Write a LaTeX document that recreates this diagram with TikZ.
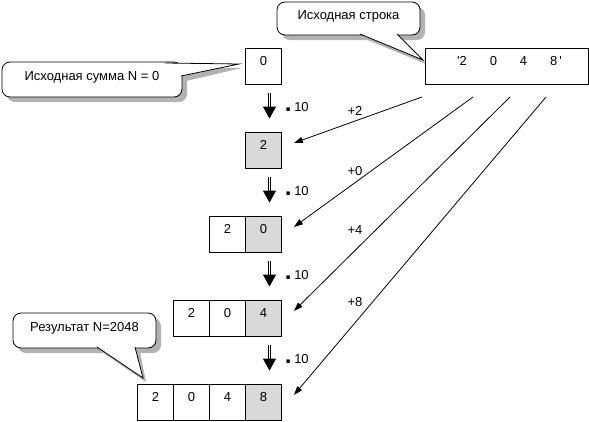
\documentclass[tikz,border=0pt]{standalone}
\usepackage{fontspec}
\setmainfont{Liberation Sans}
\newfontfamily\symfont{DejaVu Sans}
\usetikzlibrary{positioning,arrows.meta,shadows,backgrounds}

\begin{document}
\begin{tikzpicture}[x=1pt,y=-1pt,line width=0.8pt,font=\fontsize{13}{15}\selectfont,
	cell/.style={rectangle,draw=black,minimum size=36pt,inner sep=0pt,text height=7pt,text depth=8pt},
	last/.style={cell,fill=gray!30},
	bubble/.style={rectangle,rounded corners=8pt,draw=black,fill=white,inner sep=0pt,text height=7pt,text depth=6pt,
		drop shadow={shadow xshift=5pt,shadow yshift=-5pt,fill=gray!60,opacity=1}},
	shade/.style={fill=gray!60},
	times arrow/.style={double,double distance=1.4pt,line width=0.8pt,-{Triangle[width=13pt,length=12pt]}},
	add arrow/.style={-{Triangle[width=6pt,length=9pt]}}]

	\useasboundingbox (0,0) rectangle (589,421);

	% the string
	\node[rectangle,draw=black,minimum width=163pt,minimum height=36pt,inner sep=0pt,text height=7pt,text depth=8pt] (src) at (506.5,66)
		{\hspace{6pt}\textquotesingle 2\hspace{23pt}0\hspace{23pt}4\hspace{23pt}8\hspace{2pt}\textquotesingle};

	% rows of N
	\node[cell] (n1) at (263.5,66) {0};
	\node[last] (n2) at (263.5,150) {2};
	\node[last] (n3) at (263.5,234) {0};
	\node[cell,left=-\pgflinewidth of n3] (n3a) {2};
	\node[last] (n4) at (263.5,318) {4};
	\node[cell,left=-\pgflinewidth of n4] (n4b) {0};
	\node[cell,left=-\pgflinewidth of n4b] (n4a) {2};
	\node[last] (n5) at (263.5,402) {8};
	\node[cell,left=-\pgflinewidth of n5] (n5c) {4};
	\node[cell,left=-\pgflinewidth of n5c] (n5b) {0};
	\node[cell,left=-\pgflinewidth of n5b] (n5a) {2};

	% *10
	\foreach \i [evaluate=\i as \j using int(\i+1)] in {1,...,4}
		\draw[times arrow] ([xshift=6pt,yshift=-9pt]n\i.south) -- ([xshift=6pt,yshift=13pt]n\j.north)
			node[midway,right=16pt,inner sep=0pt,yshift=-1pt] {{\symfont\fontsize{7}{7}\selectfont ▪} 10};

	% +digit
	\coordinate (s2) at (422,97);
	\coordinate (s3) at (473,97);
	\coordinate (s4) at (510,97);
	\coordinate (s5) at (546,97);
	\foreach \i/\d/\y in {2/2/111,3/0/171,4/4/230,5/8/302} {
		\draw[add arrow] (s\i) -- ([xshift=12pt,yshift=7pt]n\i.east);
		\node (p\i) at (355,\y) {+\d};
	}

	% callouts
	\node[bubble,minimum width=180pt,minimum height=35pt] (sum) at (92,79.5) {Исходная сумма N = 0};
	\node[bubble,minimum width=143pt,minimum height=33pt] (str) at (348.5,18.5) {Исходная строка};
	\node[bubble,minimum width=143pt,minimum height=35pt] (res) at (84.5,330.5) {Результат N=2048};
	\coordinate (sumA) at (165,63); \coordinate (sumT) at (239,64); \coordinate (sumB) at (181,76);
	\coordinate (strA) at (360,34); \coordinate (strT) at (423,60); \coordinate (strB) at (397,34);
	\coordinate (resA) at (97,347); \coordinate (resT) at (143,378); \coordinate (resB) at (135,347);
	\foreach \k in {sum,str,res} {
		\fill[white] (\k A) -- (\k T) -- (\k B) -- cycle;
		\draw (\k A) -- (\k T) -- (\k B);
	}
	\begin{scope}[on background layer]
		\foreach \k in {sum,str,res}
			\fill[shade] ([xshift=5pt,yshift=-5pt]\k A) -- ([xshift=3pt,yshift=-4pt]\k T) -- ([xshift=5pt,yshift=-5pt]\k B) -- cycle;
	\end{scope}
\end{tikzpicture}
\end{document}
